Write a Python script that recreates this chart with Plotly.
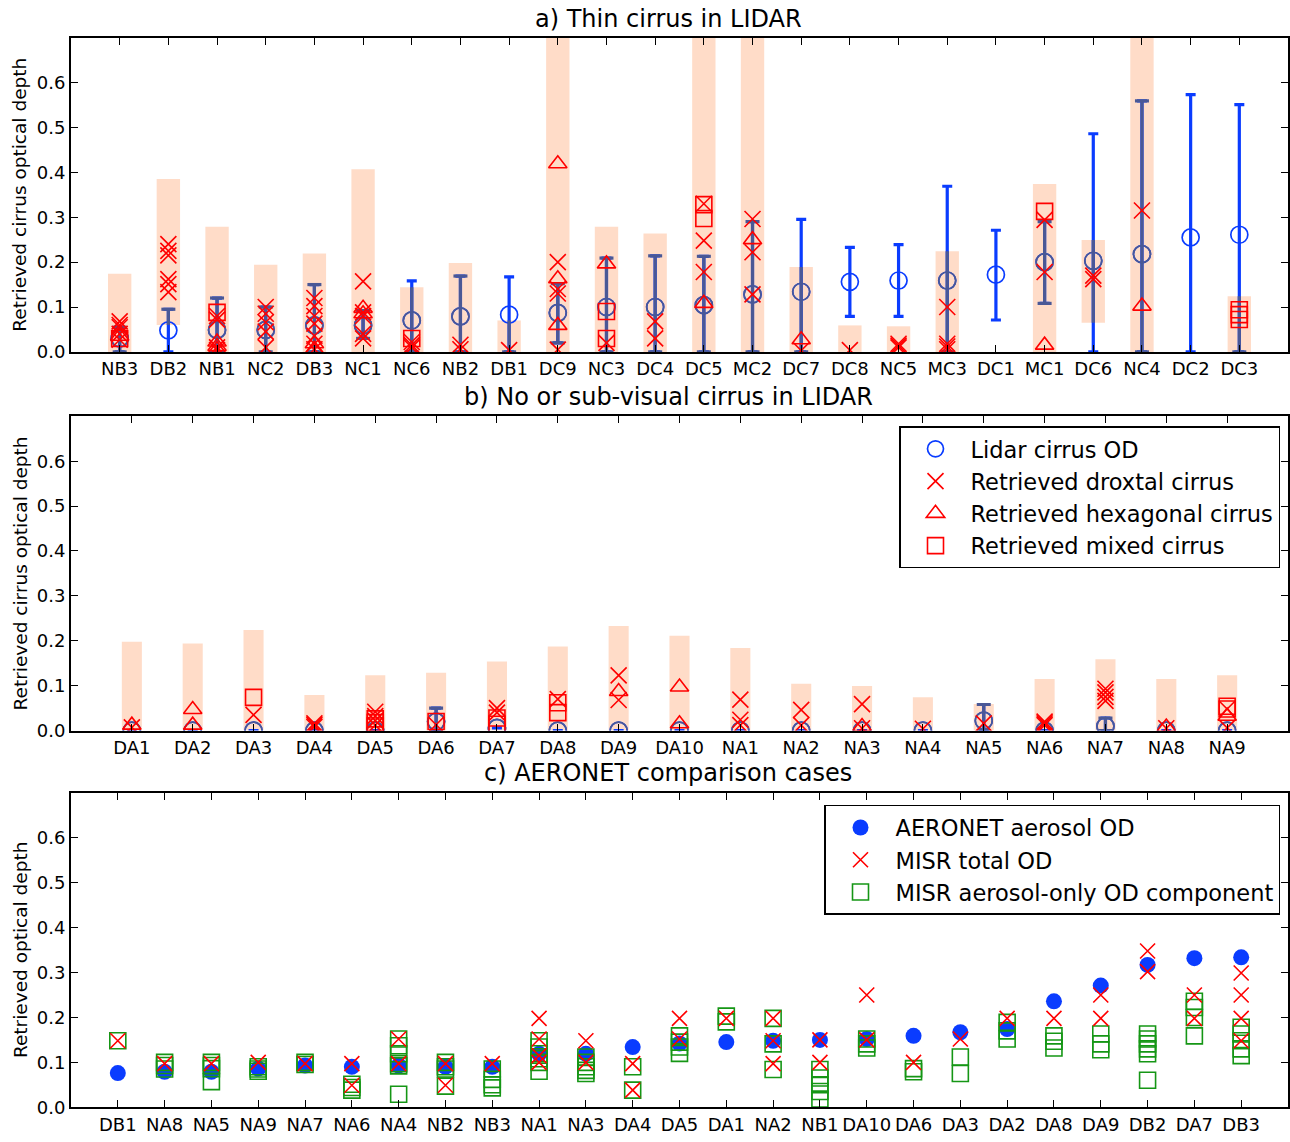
import plotly.graph_objects as go

BLUE = "#0a3cff"
SLATE = "#4a5896"
RED = "#ff0000"
GREEN = "#159615"
BAR = "rgba(255,129,57,0.28)"
FONT = "DejaVu Sans"

# ---------------- Panel a: thin cirrus in LIDAR ----------------
a_cats = ["NB3", "DB2", "NB1", "NC2", "DB3", "NC1", "NC6", "NB2", "DB1", "DC9", "NC3", "DC4",
          "DC5", "MC2", "DC7", "DC8", "NC5", "MC3", "DC1", "MC1", "DC6", "NC4", "DC2", "DC3"]
a_bar_low = [0, 0.06, 0, 0, 0, 0, 0, 0, 0, 0, 0, 0, 0, 0, 0, 0, 0, 0, None, 0, 0.065, 0, None, 0]
a_bar_high = [0.174, 0.385, 0.279, 0.194, 0.219, 0.407, 0.144, 0.198, 0.07, 0.8, 0.279, 0.264,
              0.8, 0.8, 0.189, 0.059, 0.057, 0.224, None, 0.374, 0.249, 0.8, None, 0.124]
a_lidar = [0.03, 0.048, 0.049, 0.049, 0.059, 0.059, 0.07, 0.079, 0.083, 0.087, 0.1, 0.1,
           0.104, 0.128, 0.134, 0.156, 0.159, 0.159, 0.172, 0.2, 0.203, 0.218, 0.255, 0.261]
a_lidar_low = [0, 0, 0, 0, 0, 0.03, 0, 0, 0, 0.02, 0, 0,
               0, 0, 0, 0.079, 0.079, 0, 0.071, 0.108, 0, 0, 0, 0]
a_lidar_high = [0.055, 0.095, 0.12, 0.1, 0.15, 0.092, 0.158, 0.169, 0.167, 0.152, 0.209, 0.214,
                0.213, 0.29, 0.295, 0.233, 0.239, 0.369, 0.271, 0.29, 0.486, 0.559, 0.573, 0.551]
a_droxtal = [[0.068, 0.06, 0.055, 0.04, 0.027], [0.24, 0.225, 0.215, 0.162, 0.151, 0.133],
             [0.08, 0.072, 0.01, 0.004], [0.1, 0.085, 0.066, 0.045, 0.01],
             [0.12, 0.102, 0.08, 0.063, 0.036, 0.018, 0.006], [0.157, 0.088, 0.08, 0.04, 0.03],
             [0.022, 0.015, 0.01], [0.016, 0.006], [0.004], [0.2, 0.14, 0.13, 0.005], [0.02],
             [0.068, 0.03], [0.33, 0.248, 0.178], [0.296, 0.222, 0.128], [0.003], [0.004],
             [0.018, 0.014, 0.01], [0.1, 0.018, 0.012, 0.006], [], [0.294, 0.178],
             [0.17, 0.162], [0.315], [], []]
a_hexagonal = [[0.035], [], [0.022, 0.012, 0.005], [], [0.018, 0.006], [0.097, 0.085], [], [],
               [], [0.419, 0.163, 0.059], [0.196], [], [0.108], [0.25], [0.027], [], [], [],
               [], [0.015], [], [0.102], [], []]
a_mixed = [[0.03], [], [0.088], [], [], [], [0.03], [], [], [], [0.09, 0.03], [],
           [0.328, 0.297], [], [], [], [], [], [], [0.313], [], [], [], [0.094, 0.083, 0.072]]

# ---------------- Panel b: no or sub-visual cirrus ----------------
b_cats = ["DA1", "DA2", "DA3", "DA4", "DA5", "DA6", "DA7", "DA8", "DA9", "DA10",
          "NA1", "NA2", "NA3", "NA4", "NA5", "NA6", "NA7", "NA8", "NA9"]
b_bar_low = [0] * 19
b_bar_high = [0.198, 0.194, 0.224, 0.079, 0.123, 0.129, 0.154, 0.187, 0.233, 0.211,
              0.184, 0.104, 0.099, 0.074, 0.059, 0.115, 0.159, 0.115, 0.123]
b_lidar = [0, 0, 0, 0, 0, 0.02, 0.006, 0, 0, 0, 0, 0, 0, 0, 0.022, 0, 0.01, 0, 0]
b_lidar_low = [None, None, None, None, None, 0, None, None, None, None,
               None, None, None, None, 0, None, 0, None, None]
b_lidar_high = [None, None, None, None, None, 0.05, None, None, None, None,
                None, None, None, None, 0.058, None, 0.028, None, None]
b_droxtal = [[0.007], [], [0.035], [0.016, 0.012, 0.008], [0.042, 0.032, 0.022, 0.012], [0.013],
             [0.05, 0.04], [0.07], [0.123, 0.068], [], [0.069, 0.024, 0.012], [0.046, 0.012],
             [0.059, 0.005], [0.004], [0.016], [0.02, 0.016, 0.012], [0.093, 0.085, 0.075, 0.066],
             [0.005], [0.048, 0.006]]
b_hexagonal = [[0.012], [0.047, 0.012], [], [], [], [], [], [], [0.087], [0.097, 0.015],
               [], [], [0.009], [], [], [], [], [0.008], [0.032]]
b_mixed = [[], [], [0.074], [], [0.026, 0.018, 0.01], [0.02], [0.028, 0.014], [0.062, 0.04], [],
           [], [], [], [], [], [], [], [], [], [0.054, 0.048]]

# ---------------- Panel c: AERONET comparison ----------------
c_cats = ["DB1", "NA8", "NA5", "NA9", "NA7", "NA6", "NA4", "NB2", "NB3", "NA1", "NA3", "DA4", "DA5",
          "DA1", "NA2", "NB1", "DA10", "DA6", "DA3", "DA2", "DA8", "DA9", "DB2", "DA7", "DB3"]
c_aeronet = [0.076, 0.079, 0.079, 0.086, 0.093, 0.09, 0.093, 0.09, 0.09, 0.119, 0.119, 0.134, 0.142,
             0.145, 0.148, 0.15, 0.152, 0.159, 0.167, 0.174, 0.236, 0.271, 0.317, 0.332, 0.334]
c_total = [[0.148], [0.097], [0.097], [0.1], [0.097], [0.097, 0.049], [0.152, 0.097], [0.097, 0.049],
           [0.097], [0.198, 0.152, 0.115, 0.1], [0.148, 0.1], [0.097, 0.038], [0.198, 0.152],
           [0.198], [0.198, 0.148, 0.097], [0.15, 0.1], [0.25, 0.15], [0.1], [0.152], [0.198],
           [0.198], [0.25, 0.198], [0.348, 0.302], [0.25, 0.198], [0.299, 0.25, 0.198, 0.148]]
c_aerosol = [[0.148], [0.1, 0.093, 0.085], [0.1, 0.093, 0.086, 0.057], [0.09, 0.085, 0.08],
             [0.1, 0.095], [0.051, 0.044, 0.038], [0.152, 0.137, 0.119, 0.097, 0.092, 0.029],
             [0.1, 0.09, 0.085, 0.047], [0.085, 0.062, 0.05, 0.043],
             [0.148, 0.134, 0.119, 0.108, 0.1, 0.08], [0.112, 0.1, 0.09, 0.082, 0.075],
             [0.09, 0.038], [0.159, 0.145, 0.134, 0.12], [0.203, 0.19], [0.198, 0.141, 0.084],
             [0.084, 0.065, 0.05, 0.035, 0.018], [0.152, 0.141, 0.132], [0.086, 0.079],
             [0.112, 0.075], [0.189, 0.17, 0.152], [0.159, 0.147, 0.132], [0.163, 0.141, 0.128],
             [0.163, 0.152, 0.141, 0.13, 0.119, 0.06], [0.236, 0.222, 0.2, 0.159],
             [0.178, 0.163, 0.148, 0.13, 0.115]]

y_ticks = [0.0, 0.1, 0.2, 0.3, 0.4, 0.5, 0.6]
y_range = [0, 0.7]


def flatten(cats, groups):
    xs, ys = [], []
    for c, g in zip(cats, groups):
        for v in g:
            xs.append(c)
            ys.append(v)
    return xs, ys


def err_arrays(vals, lows, highs):
    plus, minus = [], []
    for v, lo, hi in zip(vals, lows, highs):
        if lo is None or hi is None:
            plus.append(None)
            minus.append(None)
        else:
            plus.append(hi - v)
            minus.append(v - lo)
    return plus, minus


def inside(v, lo, hi):
    return v is not None and lo is not None and hi is not None and lo <= v <= hi


fig = go.Figure()
W, H = 1290, 1142
x_dom = [71 / W, 1288 / W]
panels = {
    "a": dict(top=38, bottom=355),
    "b": dict(top=420, bottom=737),
    "c": dict(top=800, bottom=1117),
}


def ydom(p):
    return [1 - panels[p]["bottom"] / H, 1 - panels[p]["top"] / H]


ERR_T = 3.2
CAP_W = 5


def add_cirrus_panel(cats, bar_low, bar_high, bar_w, lidar, lo, hi, drox, hexa, mixed,
                     ax, legend, showlegend):
    xa, ya = "x" + ax, "y" + ax
    # translucent bars (drawn in the bar layer, beneath the markers)
    heights = [None if (l is None or h is None) else h - l for l, h in zip(bar_low, bar_high)]
    fig.add_trace(go.Bar(
        x=cats, y=heights, base=bar_low, width=bar_w, marker=dict(color=BAR, line=dict(width=0)),
        xaxis=xa, yaxis=ya, showlegend=False, hoverinfo="skip"))
    # lidar points with error bars (blue)
    plus, minus = err_arrays(lidar, lo, hi)
    fig.add_trace(go.Scatter(
        x=cats, y=lidar, mode="markers", name="Lidar cirrus OD",
        marker=dict(symbol="circle-open", size=17, color=BLUE, line=dict(width=1.7, color=BLUE)),
        error_y=dict(type="data", symmetric=False, array=plus, arrayminus=minus,
                     color=BLUE, thickness=ERR_T, width=CAP_W),
        xaxis=xa, yaxis=ya, legend=legend, showlegend=showlegend, hoverinfo="skip"))
    # parts of the lidar marks seen through the bars (muted slate)
    seg_x, seg_y, cap_x, cap_y, dot_x, dot_y = [], [], [], [], [], []
    for c, v, l, h, bl, bh in zip(cats, lidar, lo, hi, bar_low, bar_high):
        if bl is None or bh is None:
            continue
        if l is not None and h is not None:
            s0, s1 = max(l, bl), min(h, bh)
            if s1 > s0:
                seg_x += [c, c, None]
                seg_y += [s0, s1, None]
            for e in (l, h):
                if inside(e, bl, bh):
                    cap_x.append(c)
                    cap_y.append(e)
        if inside(v, bl, bh):
            dot_x.append(c)
            dot_y.append(v)
    fig.add_trace(go.Scatter(x=seg_x, y=seg_y, mode="lines", line=dict(color=SLATE, width=ERR_T),
                             xaxis=xa, yaxis=ya, showlegend=False, hoverinfo="skip"))
    fig.add_trace(go.Scatter(x=cap_x, y=cap_y, mode="markers",
                             marker=dict(symbol="line-ew-open", size=2 * CAP_W, color=SLATE,
                                         line=dict(width=ERR_T, color=SLATE)),
                             xaxis=xa, yaxis=ya, showlegend=False, hoverinfo="skip"))
    fig.add_trace(go.Scatter(x=dot_x, y=dot_y, mode="markers",
                             marker=dict(symbol="circle-open", size=17, color=SLATE,
                                         line=dict(width=1.7, color=SLATE)),
                             xaxis=xa, yaxis=ya, showlegend=False, hoverinfo="skip"))
    # retrieved cirrus
    for groups, sym, size, name in [(drox, "x-thin-open", 16, "Retrieved droxtal cirrus"),
                                    (hexa, "triangle-up-open", 16, "Retrieved hexagonal cirrus"),
                                    (mixed, "square-open", 16, "Retrieved mixed cirrus")]:
        xs, ys = flatten(cats, groups)
        fig.add_trace(go.Scatter(
            x=xs, y=ys, mode="markers", name=name,
            marker=dict(symbol=sym, size=size, color=RED, line=dict(width=1.6, color=RED)),
            xaxis=xa, yaxis=ya, legend=legend, showlegend=showlegend, hoverinfo="skip"))


add_cirrus_panel(a_cats, a_bar_low, a_bar_high, 0.48, a_lidar, a_lidar_low, a_lidar_high,
                 a_droxtal, a_hexagonal, a_mixed, "", "legend", False)
add_cirrus_panel(b_cats, b_bar_low, b_bar_high, 0.33, b_lidar, b_lidar_low, b_lidar_high,
                 b_droxtal, b_hexagonal, b_mixed, "2", "legend2", True)

# Panel c
fig.add_trace(go.Scatter(
    x=c_cats, y=c_aeronet, mode="markers", name="AERONET aerosol OD",
    marker=dict(symbol="circle", size=16, color=BLUE),
    xaxis="x3", yaxis="y3", legend="legend3", hoverinfo="skip"))
xs, ys = flatten(c_cats, c_aerosol)
fig.add_trace(go.Scatter(
    x=xs, y=ys, mode="markers", name="MISR aerosol-only OD component",
    marker=dict(symbol="square-open", size=16, color=GREEN, line=dict(width=1.6, color=GREEN)),
    xaxis="x3", yaxis="y3", legend="legend3", showlegend=False, hoverinfo="skip"))
xs, ys = flatten(c_cats, c_total)
fig.add_trace(go.Scatter(
    x=xs, y=ys, mode="markers", name="MISR total OD",
    marker=dict(symbol="x-thin-open", size=15, color=RED, line=dict(width=1.6, color=RED)),
    xaxis="x3", yaxis="y3", legend="legend3", hoverinfo="skip"))
# legend entry for the green squares, listed last as in the original
fig.add_trace(go.Scatter(
    x=[None], y=[None], mode="markers", name="MISR aerosol-only OD component",
    marker=dict(symbol="square-open", size=16, color=GREEN, line=dict(width=1.6, color=GREEN)),
    xaxis="x3", yaxis="y3", legend="legend3", hoverinfo="skip"))

tickfont = dict(family=FONT, size=18, color="black")


def xaxis_cfg(cats, rng, anchor):
    return dict(type="category", categoryorder="array", categoryarray=cats, range=rng,
                domain=x_dom, anchor=anchor, tickmode="array", tickvals=cats, ticktext=cats,
                ticks="inside", ticklen=7, tickwidth=1, tickcolor="black", mirror="ticks",
                showline=True, linecolor="black", linewidth=1.8, showgrid=False, zeroline=False,
                tickfont=tickfont, fixedrange=True)


def yaxis_cfg(p, anchor):
    return dict(range=y_range, domain=ydom(p), anchor=anchor, tickmode="array", tickvals=y_ticks,
                ticktext=["%.1f" % v for v in y_ticks], ticks="inside", ticklen=7, tickwidth=1,
                tickcolor="black", mirror="ticks", showline=True, linecolor="black",
                linewidth=1.8, showgrid=False, zeroline=False, tickfont=tickfont, fixedrange=True)


legend_common = dict(bgcolor="white", bordercolor="black", borderwidth=1.5,
                     font=dict(family=FONT, size=22.5, color="black"), xanchor="right",
                     yanchor="top", itemsizing="trace", tracegroupgap=0, itemwidth=60)

fig.update_layout(
    width=W, height=H, autosize=False, margin=dict(l=0, r=0, t=0, b=0),
    paper_bgcolor="white", plot_bgcolor="white", barmode="overlay",
    font=dict(family=FONT, color="black"),
    xaxis=xaxis_cfg(a_cats, [-1, len(a_cats)], "y"), yaxis=yaxis_cfg("a", "x"),
    xaxis2=xaxis_cfg(b_cats, [-1, len(b_cats)], "y2"), yaxis2=yaxis_cfg("b", "x2"),
    xaxis3=xaxis_cfg(c_cats, [-1, len(c_cats)], "y3"), yaxis3=yaxis_cfg("c", "x3"),
    legend2=dict(x=1280 / W, y=1 - 430 / H, **legend_common),
    legend3=dict(x=1280 / W, y=1 - 812 / H, **legend_common),
    showlegend=True,
)

title_x = 668 / W
titles = [("a) Thin cirrus in LIDAR", 19), ("b) No or sub-visual cirrus in LIDAR", 401),
          ("c) AERONET comparison cases", 780)]
for text, ypx in titles:
    fig.add_annotation(text=text, x=title_x, y=1 - ypx / H, xref="paper", yref="paper",
                       showarrow=False, xanchor="center", yanchor="middle",
                       font=dict(family=FONT, size=24, color="black"))
ylabels = [("Retrieved cirrus optical depth", "a"), ("Retrieved cirrus optical depth", "b"),
           ("Retrieved optical depth", "c")]
for text, p in ylabels:
    d = ydom(p)
    fig.add_annotation(text=text, x=20 / W, y=(d[0] + d[1]) / 2, xref="paper", yref="paper",
                       showarrow=False, textangle=-90, xanchor="center", yanchor="middle",
                       font=dict(family=FONT, size=18.5, color="black"))

fig.write_html("out.html")
